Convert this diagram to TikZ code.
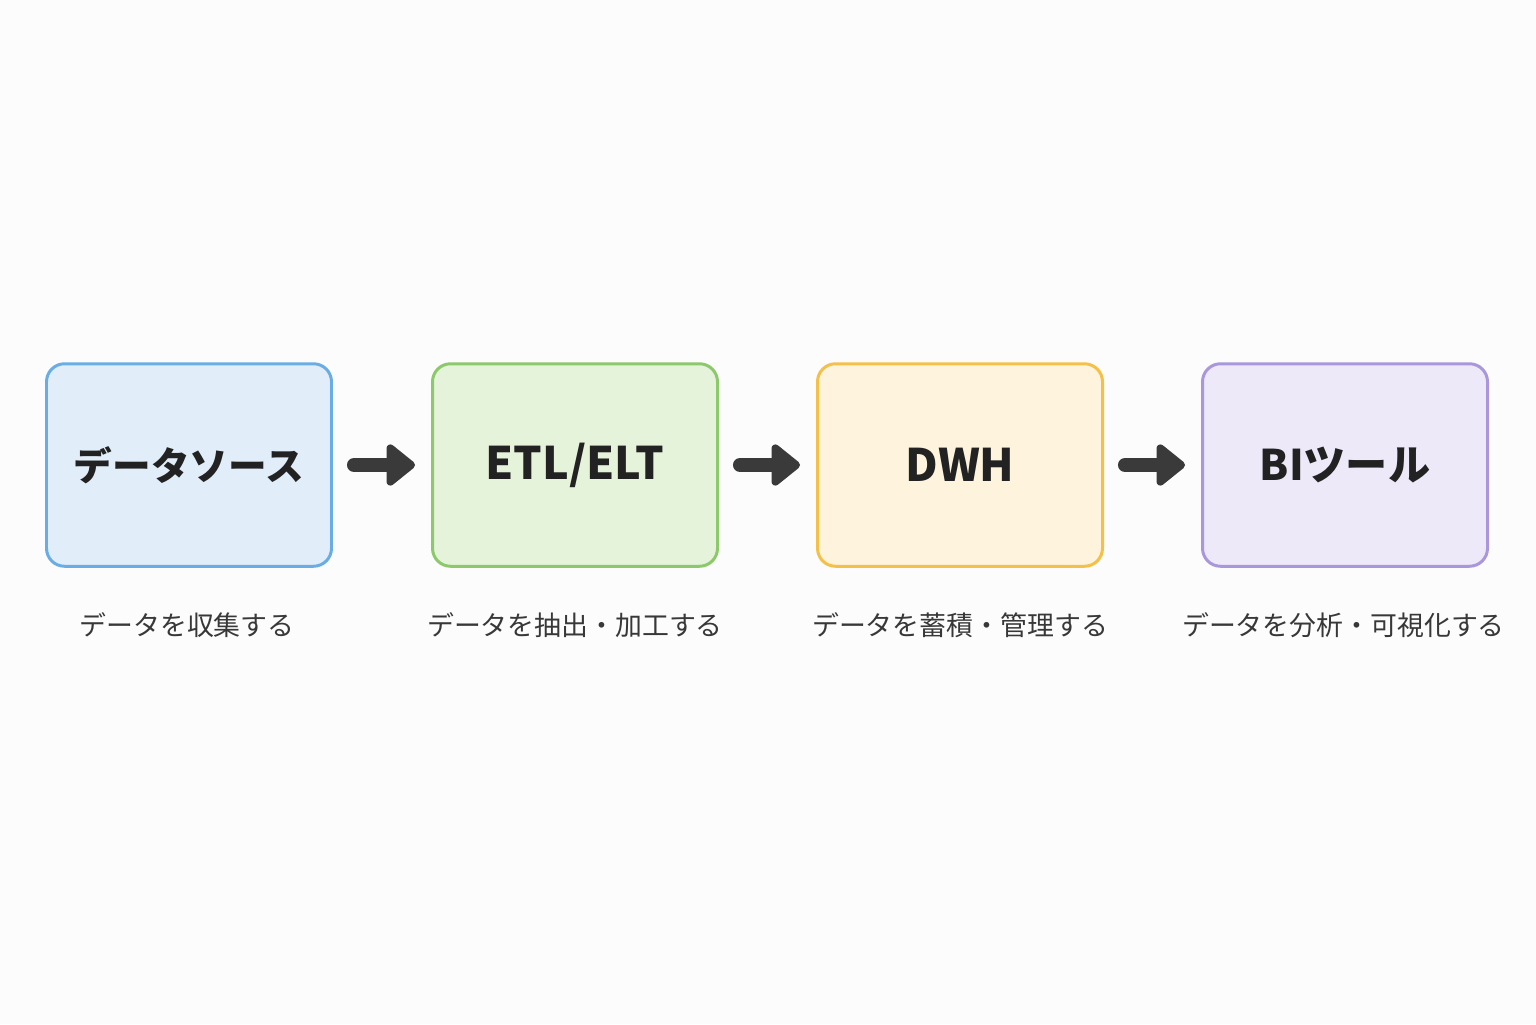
\documentclass[tikz,border=0pt]{standalone}
\usepackage{fontspec}
\setmainfont{Noto Sans CJK JP}
\usetikzlibrary{arrows.meta}

\definecolor{bgcol}{HTML}{FCFCFC}
\definecolor{srcline}{HTML}{6AADE4}
\definecolor{srcfill}{HTML}{E1EEFA}
\definecolor{etlline}{HTML}{8CC96A}
\definecolor{etlfill}{HTML}{E6F3DB}
\definecolor{dwhline}{HTML}{F5C04A}
\definecolor{dwhfill}{HTML}{FEF3DC}
\definecolor{biline}{HTML}{A996DB}
\definecolor{bifill}{HTML}{EDE9F8}
\definecolor{arrowcol}{HTML}{3A3A3A}
\definecolor{textcol}{HTML}{222222}

\begin{document}
\begin{tikzpicture}[
    stage/.style = {
      shape=rectangle,
      rounded corners=0.36cm,
      line width=1.7pt,
      minimum width=5.7cm,
      minimum height=4.05cm,
      align=center,
      text=textcol,
      font=\bfseries\fontsize{22}{26}\selectfont
    },
    latin/.style = {
      font=\bfseries\fontsize{25.5}{30}\selectfont
    },
    caption/.style = {
      text=textcol!90,
      font=\fontsize{15.3}{18}\selectfont
    },
    flow/.style = {
      line width=8pt,
      line cap=round,
      draw=arrowcol,
      -{Triangle[length=0.62cm, width=0.95cm, round]},
      shorten <=0.42cm,
      shorten >=0.32cm
    }
  ]

    % page
    \fill[bgcol] (0,0) rectangle (30.72,-20.48);
    \useasboundingbox (0,0) rectangle (30.72,-20.48);

    % Stages
    \node[stage, draw=srcline, fill=srcfill] (quelle) at ( 3.78, -9.3) {データソース};
    \node[stage, latin, draw=etlline, fill=etlfill] (etl) at (11.50, -9.3) {ETL/ELT};
    \node[stage, latin, draw=dwhline, fill=dwhfill] (dwh) at (19.20, -9.3) {DWH};
    \node[stage, draw=biline,  fill=bifill]  (bi)     at (26.90, -9.3) {\fontsize{24}{28}\selectfont BIツール};

    % Captions under the stages
    \node[caption] (quellelbl) at ( 3.74, -12.5) {データを収集する};
    \node[caption] (etllbl)    at (11.50, -12.5) {データを抽出・加工する};
    \node[caption] (dwhlbl)    at (19.20, -12.5) {データを蓄積・管理する};
    \node[caption] (bilbl)     at (26.87, -12.5) {データを分析・可視化する};

    % Arrows
    \draw[flow] (quelle) -- (etl);
    \draw[flow] (etl) -- (dwh);
    \draw[flow] (dwh) -- (bi);

  \end{tikzpicture}
\end{document}
